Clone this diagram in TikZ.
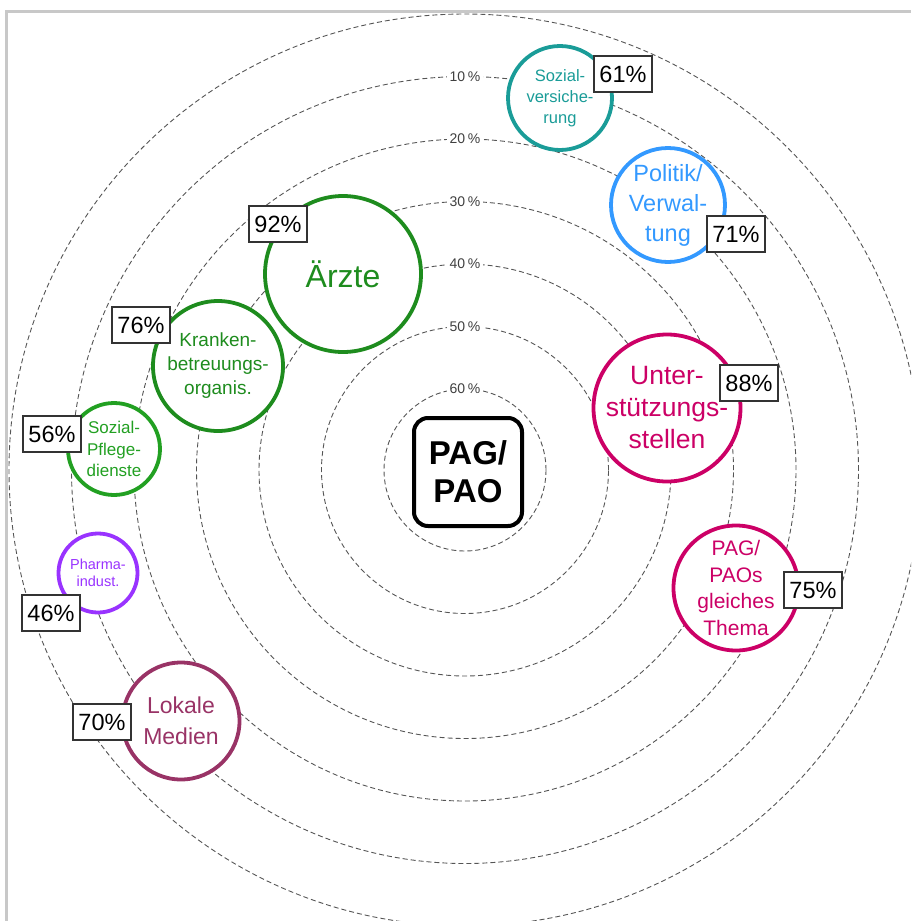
\documentclass[tikz,border=0pt]{standalone}
\usepackage{fontspec}
\setsansfont{Liberation Sans}
\usepackage{tikz}
\usetikzlibrary{positioning}

\definecolor{versteal}{HTML}{1A9C98}
\definecolor{polblue}{HTML}{3399FF}
\definecolor{docgreen}{HTML}{1E8C1E}
\definecolor{caregreen}{HTML}{22A022}
\definecolor{pharmapurple}{HTML}{9933FF}
\definecolor{mediamaroon}{HTML}{993366}
\definecolor{helpmagenta}{HTML}{CC0066}
\definecolor{framegray}{HTML}{C8C8C8}
\definecolor{ringgray}{HTML}{555555}

\begin{document}
\begin{tikzpicture}[x=1pt,y=-1pt,font=\sffamily,
    ring/.style={ringgray,line width=0.9pt,dash pattern=on 5pt off 3pt},
    ringlab/.style={fill=white,text=black!75,inner sep=3pt,font=\sffamily\fontsize{14}{16}\selectfont},
    bubble/.style={circle,draw,fill=white,line width=3.8pt,inner sep=0pt,align=center},
    pct/.style={draw=black!80,fill=white,line width=1.3pt,minimum width=58pt,minimum height=36pt,
        inner sep=0pt,font=\sffamily\fontsize{23.5}{25}\selectfont}]
    \useasboundingbox (0,0) rectangle (911,921);
    \clip (0,0) rectangle (911,921);
    \draw [framegray,line width=3pt] (6,921) -- (6,11) -- (911,11);

    % rings
    \coordinate (ctr) at (465,470);
    \foreach \k/\lab in {0/60,1/50,2/40,3/30,4/20,5/10} {
        \pgfmathsetmacro\r{81+62.5*\k}
        \draw [ring] (ctr) circle [radius=\r pt];
        \node [ringlab] (ring\lab) at (465,{470-\r}) {\lab\hspace{0.2em}\%};
    }
    \draw [ring] (ctr) circle [radius=456pt];

    \node [draw,line width=4pt,rounded corners=14pt,minimum width=108pt,minimum height=108pt,align=center,
        font=\sffamily\bfseries\fontsize{33}{38}\selectfont] (pag) at (468,472) {PAG/\\PAO};

    % groups
    \node [bubble,draw=versteal,text=versteal,minimum size=104pt,
        font=\sffamily\fontsize{16.5}{21}\selectfont] (versich) at (560,98) {Sozial-\\versiche-\\rung};
    \node [bubble,draw=polblue,text=polblue,minimum size=114pt,
        font=\sffamily\fontsize{23.5}{30}\selectfont] (politik) at (668,205) {Politik/\\Verwal-\\tung};
    \node [bubble,draw=docgreen,text=docgreen,minimum size=156pt,
        font=\sffamily\fontsize{32}{36}\selectfont] (aerzte) at (343,274) {Ärzte};
    \node [bubble,draw=docgreen,text=docgreen,minimum size=130pt,
        font=\sffamily\fontsize{19}{24}\selectfont] (kranken) at (218,366) {Kranken-\\betreuungs-\\organis.};
    \node [bubble,draw=caregreen,text=caregreen,minimum size=92pt,
        font=\sffamily\fontsize{17}{21.5}\selectfont] (pflege) at (114,449) {Sozial-\\Pflege-\\dienste};
    \node [bubble,draw=pharmapurple,text=pharmapurple,minimum size=79pt,
        font=\sffamily\fontsize{14.5}{17.5}\selectfont] (pharma) at (98,573) {Pharma-\\indust.};
    \node [bubble,draw=mediamaroon,text=mediamaroon,minimum size=117pt,
        font=\sffamily\fontsize{23}{31}\selectfont] (medien) at (181,721) {Lokale\\Medien};
    \node [bubble,draw=helpmagenta,text=helpmagenta,minimum size=147pt,
        font=\sffamily\fontsize{26.5}{32}\selectfont] (unter) at (667,408) {Unter-\\stützungs-\\stellen};
    \node [bubble,draw=helpmagenta,text=helpmagenta,minimum size=125pt,
        font=\sffamily\fontsize{21}{26.5}\selectfont] (gleich) at (736,588) {PAG/\\PAOs\\gleiches\\Thema};

    % shares
    \node [pct] (p61) at (623,74) {61\%};
    \node [pct] (p71) at (736,234) {71\%};
    \node [pct] (p92) at (278,224) {92\%};
    \node [pct] (p76) at (141,325) {76\%};
    \node [pct] (p56) at (52,434) {56\%};
    \node [pct] (p46) at (51,613) {46\%};
    \node [pct] (p70) at (102,722) {70\%};
    \node [pct] (p88) at (749,383) {88\%};
    \node [pct] (p75) at (813,590) {75\%};
\end{tikzpicture}
\end{document}
